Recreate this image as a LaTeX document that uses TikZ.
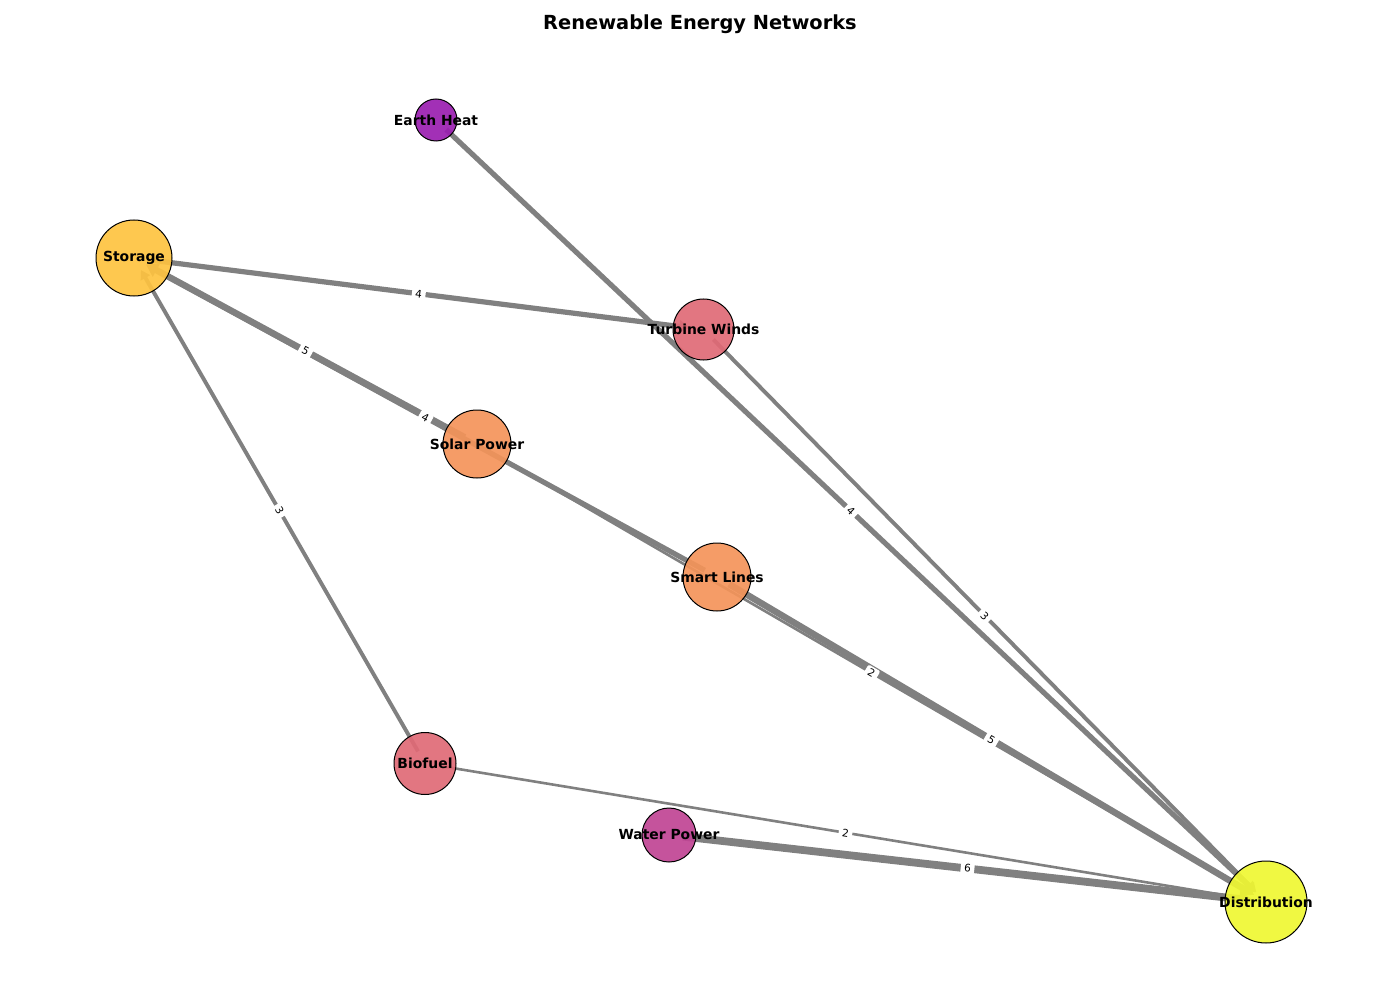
\documentclass[tikz,border=0pt]{standalone}
\usepackage{fontspec}
\setmainfont{DejaVu Sans}
\usetikzlibrary{arrows.meta}
\pgfdeclarelayer{bg}
\pgfdeclarelayer{lab}
\pgfsetlayers{bg,lab,main}
\definecolor{ecol}{RGB}{128,128,128}
\definecolor{cearth}{RGB}{154,30,176}
\definecolor{cwater}{RGB}{192,68,148}
\definecolor{cpink}{RGB}{224,106,118}
\definecolor{corange}{RGB}{244,148,90}
\definecolor{cstorage}{RGB}{254,195,64}
\definecolor{cdist}{RGB}{239,247,50}
\begin{document}
\begin{tikzpicture}[x=1pt,y=-1pt,
  vtx/.style={circle, draw=black, line width=1pt, inner sep=0pt, minimum size=#1,
    fill opacity=0.92},
  vlab/.style={label={[font=\fontsize{13.9}{16}\selectfont\bfseries, inner sep=0pt]center:#1}},
  edg/.style={draw=ecol, line width=#1, shorten <=14pt, shorten >=14pt,
    -{Triangle[length=5pt 1, width=4pt 1.6]}},
  elab/.style={fill=white, inner xsep=3.5pt, inner ysep=2pt, rounded corners=2pt,
    font=\fontsize{10.5}{12}\selectfont, sloped, pos=0.5, text=black}
]
\useasboundingbox (0,0) rectangle (1400,1000);
\node[font=\fontsize{19.4}{22}\selectfont\bfseries] (title) at (700,24) {Renewable Energy Networks};

\node[vtx=42pt, fill=cearth, vlab={Earth Heat}] (eh) at (436,120) {};
\node[vtx=76pt, fill=cstorage, vlab={Storage}] (st) at (134,258) {};
\node[vtx=61pt, fill=cpink, vlab={Turbine Winds}] (tw) at (703.5,329.5) {};
\node[vtx=68pt, fill=corange, vlab={Solar Power}] (sp) at (477,444) {};
\node[vtx=68pt, fill=corange, vlab={Smart Lines}] (sl) at (717,577) {};
\node[vtx=62pt, fill=cpink, vlab={Biofuel}] (bf) at (425,763.5) {};
\node[vtx=54pt, fill=cwater, vlab={Water Power}] (wp) at (669,835) {};
\node[vtx=82pt, fill=cdist, vlab={Distribution}] (di) at (1266,902) {};

\begin{pgfonlayer}{bg}
\draw[edg=5.2pt] (st.center) -- (tw.center);
\draw[edg=6.5pt] (sp.center) -- (st.center);
\draw[edg=5.2pt] (sl.center) -- (st.center);
\draw[edg=3.9pt] (bf.center) -- (st.center);
\draw[edg=5.2pt] (eh.center) -- (di.center);
\draw[edg=3.9pt] (tw.center) -- (di.center);
\draw[edg=2.6pt] (sp.center) -- (di.center);
\draw[edg=6.5pt] (sl.center) -- (di.center);
\draw[edg=2.6pt] (bf.center) -- (di.center);
\draw[edg=7.8pt] (wp.center) -- (di.center);
\end{pgfonlayer}
\begin{pgfonlayer}{lab}
\path (st.center) -- node[elab]{4} (tw.center);
\path (sp.center) -- node[elab]{5} (st.center);
\path (sl.center) -- node[elab]{4} (st.center);
\path (bf.center) -- node[elab]{3} (st.center);
\path (eh.center) -- node[elab]{4} (di.center);
\path (tw.center) -- node[elab]{3} (di.center);
\path (sp.center) -- node[elab]{2} (di.center);
\path (sl.center) -- node[elab]{5} (di.center);
\path (bf.center) -- node[elab]{2} (di.center);
\path (wp.center) -- node[elab]{6} (di.center);
\end{pgfonlayer}
\end{tikzpicture}
\end{document}
